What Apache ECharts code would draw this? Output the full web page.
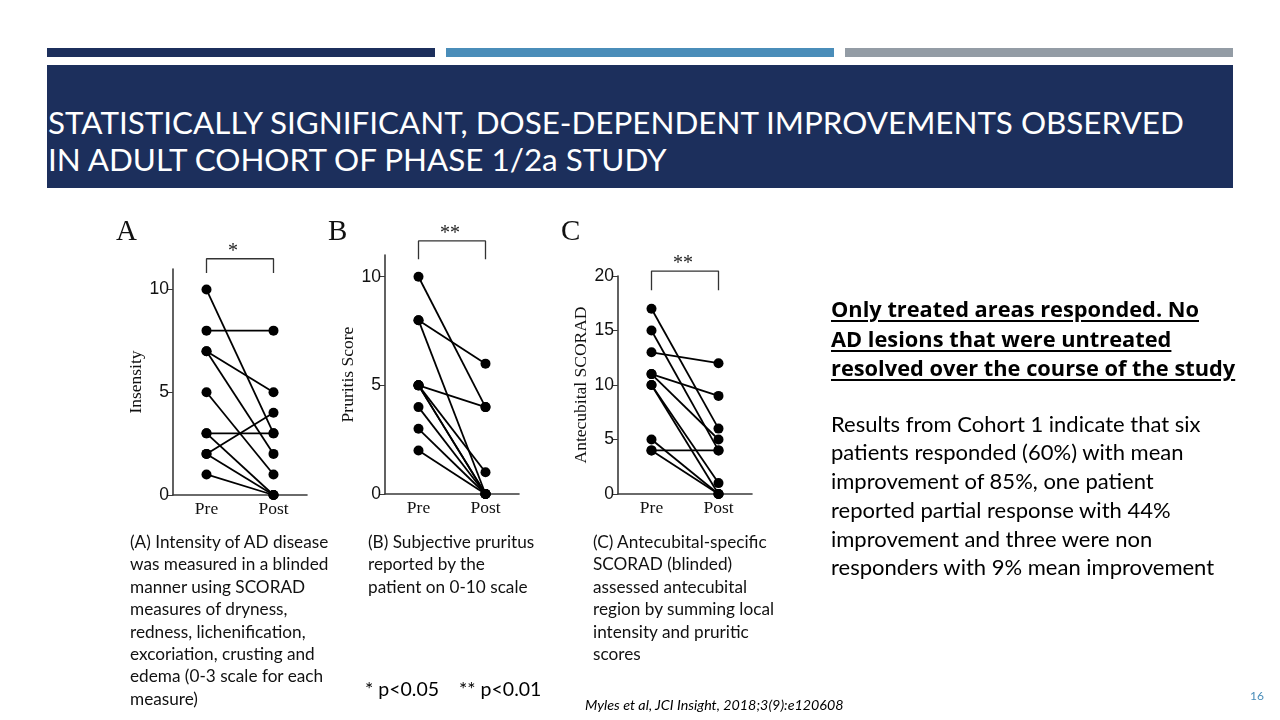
<!DOCTYPE html>
<html>
<head>
<meta charset="utf-8">
<title>Phase 1/2a adult cohort</title>
<script src="https://cdn.jsdelivr.net/npm/echarts@6/dist/echarts.min.js"></script>
<style>
  html, body { margin: 0; padding: 0; background: #fff; }
  #slide { position: relative; width: 1280px; height: 720px; overflow: hidden; background: #fff; font-family: Lato, "Open Sans", sans-serif; }
  .bar { position: absolute; top: 48px; height: 9px; }
  #titlebox { position: absolute; left: 47px; top: 65px; width: 1186px; height: 123px; background: #1c2f5c; }
  #title { position: absolute; left: 48px; top: 104px; color: #fff; font-size: 31.4px; line-height: 37px; white-space: nowrap; }
  #chart { position: absolute; left: 0; top: 0; width: 1280px; height: 720px; }
  .cap { position: absolute; top: 531px; font-size: 17.2px; line-height: 22.4px; color: #111; white-space: nowrap; }
  #right { position: absolute; left: 831px; top: 294px; color: #000; white-space: nowrap; }
  #right .lead { font-family: "Open Sans", Lato, sans-serif; font-weight: bold; font-size: 21.8px; line-height: 29.5px; text-decoration: underline; text-underline-offset: 3px; }
  #right .body { font-size: 22px; line-height: 28.8px; margin-top: 27px; }
  #pval { position: absolute; left: 365px; top: 677px; font-size: 19.5px; white-space: pre; }
  #cite { position: absolute; left: 585px; top: 696px; font-size: 14.3px; font-style: italic; }
  #page { position: absolute; left: 1250px; top: 688px; font-size: 12px; color: #4a8db9; }
</style>
</head>
<body>
<div id="slide">
  <div class="bar" style="left:47px;width:388px;background:#1c2f5c"></div>
  <div class="bar" style="left:446px;width:388px;background:#4a8db9"></div>
  <div class="bar" style="left:845px;width:388px;background:#939ca5"></div>
  <div id="titlebox"></div>
  <div id="title">STATISTICALLY SIGNIFICANT, DOSE-DEPENDENT IMPROVEMENTS OBSERVED<br>IN ADULT COHORT OF PHASE 1/2a STUDY</div>
  <div id="chart"></div>
  <div class="cap" style="left:130px">(A) Intensity of AD disease<br>was measured in a blinded<br>manner using SCORAD<br>measures of dryness,<br>redness, lichenification,<br>excoriation, crusting and<br>edema (0-3 scale for each<br>measure)</div>
  <div class="cap" style="left:368px">(B) Subjective pruritus<br>reported by the<br>patient on 0-10 scale</div>
  <div class="cap" style="left:593px">(C) Antecubital-specific<br>SCORAD (blinded)<br>assessed antecubital<br>region by summing local<br>intensity and pruritic<br>scores</div>
  <div id="right">
    <div class="lead">Only treated areas responded. No<br>AD lesions that were untreated<br>resolved over the course of the study</div>
    <div class="body">Results from Cohort 1 indicate that six<br>patients responded (60%) with mean<br>improvement of 85%, one patient<br>reported partial response with 44%<br>improvement and three were non<br>responders with 9% mean improvement</div>
  </div>
  <div id="pval">* p&lt;0.05    ** p&lt;0.01</div>
  <div id="cite">Myles et al, JCI Insight, 2018;3(9):e120608</div>
  <div id="page">16</div>
</div>
<script>
// paired patient values, pre vs post treatment
const categories = ['Pre', 'Post'];

const preA = [10, 8, 7, 7, 5, 3, 3, 2, 2, 1];
const postA = [3, 8, 5, 2, 1, 3, 0, 4, 0, 0];

const preB = [10, 8, 8, 5, 5, 5, 5, 4, 3, 2];
const postB = [4, 6, 0, 4, 1, 0, 0, 0, 0, 0];

const preC = [17, 15, 13, 11, 11, 10, 10, 5, 4, 4];
const postC = [6, 4, 12, 9, 5, 1, 0, 0, 4, 0];

const tickLabelsA = [0, 5, 10];
const tickLabelsB = [0, 5, 10];
const tickLabelsC = [0, 5, 10, 15, 20];

const panels = [
  { letter: 'A', pre: preA, post: postA, ticks: tickLabelsA, max: 11, name: 'Insensity', stars: '*',
    grid: { left: 173, top: 269, width: 134, height: 226 }, nameGap: 15, bracket: [10.8, 11.5] },
  { letter: 'B', pre: preB, post: postB, ticks: tickLabelsB, max: 11, name: 'Pruritis Score', stars: '**',
    grid: { left: 385, top: 255, width: 134, height: 239 }, nameGap: 22, bracket: [10.8, 11.65] },
  { letter: 'C', pre: preC, post: postC, ticks: tickLabelsC, max: 20, name: 'Antecubital SCORAD', stars: '**',
    grid: { left: 618, top: 276, width: 134, height: 218 }, nameGap: 21, bracket: [18.7, 20.45] }
];

const axisColor = '#3a3a3a';
const serif = '"Liberation Serif", "DejaVu Serif", serif';
const sans = '"Liberation Sans", Arial, sans-serif';

const chart = echarts.init(document.getElementById('chart'), null, { renderer: 'canvas' });

const grids = [], xAxes = [], yAxes = [], series = [];
panels.forEach((p, k) => {
  grids.push(Object.assign({ containLabel: false }, p.grid));
  xAxes.push({
    type: 'category', gridIndex: k, data: categories, boundaryGap: true,
    axisLine: { lineStyle: { color: axisColor, width: 1.6 } },
    axisTick: { alignWithLabel: true, length: 4, lineStyle: { color: axisColor } },
    axisLabel: { color: '#111', fontFamily: serif, fontSize: 17.5, margin: 5 },
    splitLine: { show: false }
  });
  yAxes.push({
    type: 'value', gridIndex: k, min: 0, max: p.max,
    name: p.name, nameLocation: 'middle', nameGap: p.nameGap,
    nameTextStyle: { fontFamily: serif, fontSize: 17.5, color: '#111' },
    axisLine: { show: true, lineStyle: { color: axisColor, width: 1.6 } },
    axisTick: { show: true, length: 5, customValues: p.ticks, lineStyle: { color: axisColor } },
    axisLabel: { customValues: p.ticks, color: '#111', fontFamily: sans, fontSize: 17.5, margin: 4 },
    splitLine: { show: false }
  });
  p.pre.forEach((v, i) => {
    series.push({
      type: 'line', xAxisIndex: k, yAxisIndex: k,
      data: [v, p.post[i]],
      symbol: 'circle', symbolSize: 10, showAllSymbol: true,
      itemStyle: { color: '#000' },
      lineStyle: { color: '#000', width: 1.8 },
      emphasis: { disabled: true }, silent: true
    });
  });
  // significance bracket
  series.push({
    type: 'line', xAxisIndex: k, yAxisIndex: k, clip: false, symbol: 'none', silent: true,
    data: [['Pre', p.bracket[0]], ['Pre', p.bracket[1]], ['Post', p.bracket[1]], ['Post', p.bracket[0]]],
    lineStyle: { color: '#333', width: 1.3 }
  });
});

chart.setOption({
  animation: false,
  grid: grids, xAxis: xAxes, yAxis: yAxes, series: series
});

// panel letters and stars, placed from the axes
const graphics = [];
panels.forEach((p, k) => {
  const a = chart.convertToPixel({ gridIndex: k }, ['Pre', p.bracket[1]]);
  const b = chart.convertToPixel({ gridIndex: k }, ['Post', p.bracket[1]]);
  graphics.push({
    type: 'text', left: (a[0] + b[0]) / 2 - 12, top: a[1] - 17,
    style: { text: p.stars, font: '20px ' + serif, fill: '#222', width: 24, align: 'center' }
  });
  graphics.push({
    type: 'text', left: p.grid.left - 57, top: 218,
    style: { text: p.letter, font: '29px ' + serif, fill: '#111' }
  });
});
chart.setOption({ graphic: graphics });
</script>
</body>
</html>
